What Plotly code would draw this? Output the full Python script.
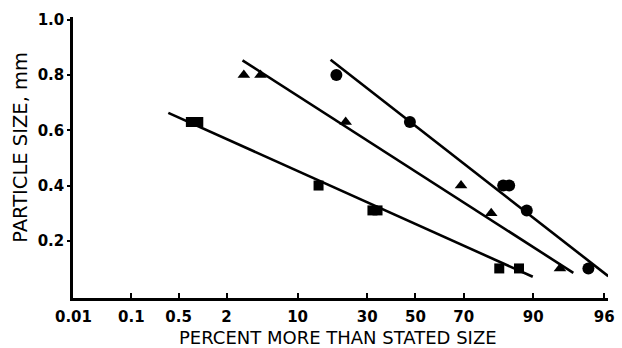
from statistics import NormalDist
import plotly.graph_objects as go

# Probability-scale (probit) x axis: percent more than stated size
tick_pct = [0.01, 0.1, 0.5, 2, 10, 30, 50, 70, 90, 98]
tick_labels = ["0.01", "0.1", "0.5", "2", "10", "30", "50", "70", "90", "96"]

size_ticks = [0.2, 0.4, 0.6, 0.8, 1.0]
size_labels = ["0.2", "0.4", "0.6", "0.8", "1.0"]

x_title = "PERCENT MORE THAN STATED SIZE"
y_title = "PARTICLE SIZE, mm"

# Circles
circle_pct = [19.5, 47.6, 83.0, 84.6, 88.7, 97.0]
circle_size = [0.80, 0.63, 0.40, 0.40, 0.31, 0.10]
circle_line_pct = [17.8, 98.2]
circle_line_size = [0.855, 0.072]

# Triangles
tri_pct = [3.1, 4.6, 22.4, 69.0, 79.5, 94.2]
tri_size = [0.80, 0.80, 0.63, 0.40, 0.30, 0.10]
tri_line_pct = [3.0, 95.7]
tri_line_size = [0.853, 0.084]

# Squares
sq_pct = [0.73, 0.91, 14.6, 32.0, 34.0, 81.9, 87.0]
sq_size = [0.63, 0.63, 0.40, 0.31, 0.31, 0.10, 0.10]
sq_line_pct = [0.36, 89.9]
sq_line_size = [0.663, 0.07]

nd = NormalDist()


def probit(values):
    return [nd.inv_cdf(v / 100.0) for v in values]


fig = go.Figure()

for lp, ls in [(circle_line_pct, circle_line_size),
               (tri_line_pct, tri_line_size),
               (sq_line_pct, sq_line_size)]:
    fig.add_trace(go.Scatter(x=probit(lp), y=ls, mode="lines",
                             line=dict(color="black", width=2.6),
                             showlegend=False, hoverinfo="skip"))

for xp, ys, sym, sz in [(circle_pct, circle_size, "circle", 12),
                        (tri_pct, tri_size, "triangle-up", 11),
                        (sq_pct, sq_size, "square", 10)]:
    fig.add_trace(go.Scatter(x=probit(xp), y=ys, mode="markers",
                             marker=dict(symbol=sym, size=sz, color="black"),
                             showlegend=False))

tick_font = dict(family="DejaVu Sans", size=15, color="black", weight="bold")
x_title_font = dict(family="DejaVu Sans", size=18, color="black")
y_title_font = dict(family="DejaVu Sans", size=19.5, color="black")

fig.update_xaxes(
    range=[nd.inv_cdf(0.0001) - 0.005, 2.094],
    tickvals=probit(tick_pct), ticktext=tick_labels,
    ticks="inside", ticklen=5, tickwidth=2, tickcolor="black",
    ticklabelstandoff=3,
    showline=True, linecolor="black", linewidth=2.5,
    showgrid=False, zeroline=False,
    tickfont=tick_font,
)
fig.update_yaxes(
    range=[-0.007, 1.01],
    tickvals=size_ticks, ticktext=size_labels,
    ticks="outside", ticklen=3, tickwidth=2, tickcolor="black",
    ticklabelstandoff=0,
    showline=True, linecolor="black", linewidth=2.5,
    showgrid=False, zeroline=False,
    tickfont=tick_font,
)

# Axis titles placed as paper-referenced text
fig.add_annotation(text=x_title, xref="paper", yref="paper",
                   x=0.495, y=-0.139, xanchor="center", yanchor="middle",
                   showarrow=False, font=x_title_font)
fig.add_annotation(text=y_title, xref="paper", yref="paper",
                   x=-0.0996, y=0.537, xanchor="center", yanchor="middle",
                   textangle=-90, showarrow=False, font=y_title_font)

fig.update_layout(
    width=622, height=348,
    margin=dict(l=73, r=7, t=17, b=50),
    paper_bgcolor="white", plot_bgcolor="white",
)

fig.write_html("out.html")
